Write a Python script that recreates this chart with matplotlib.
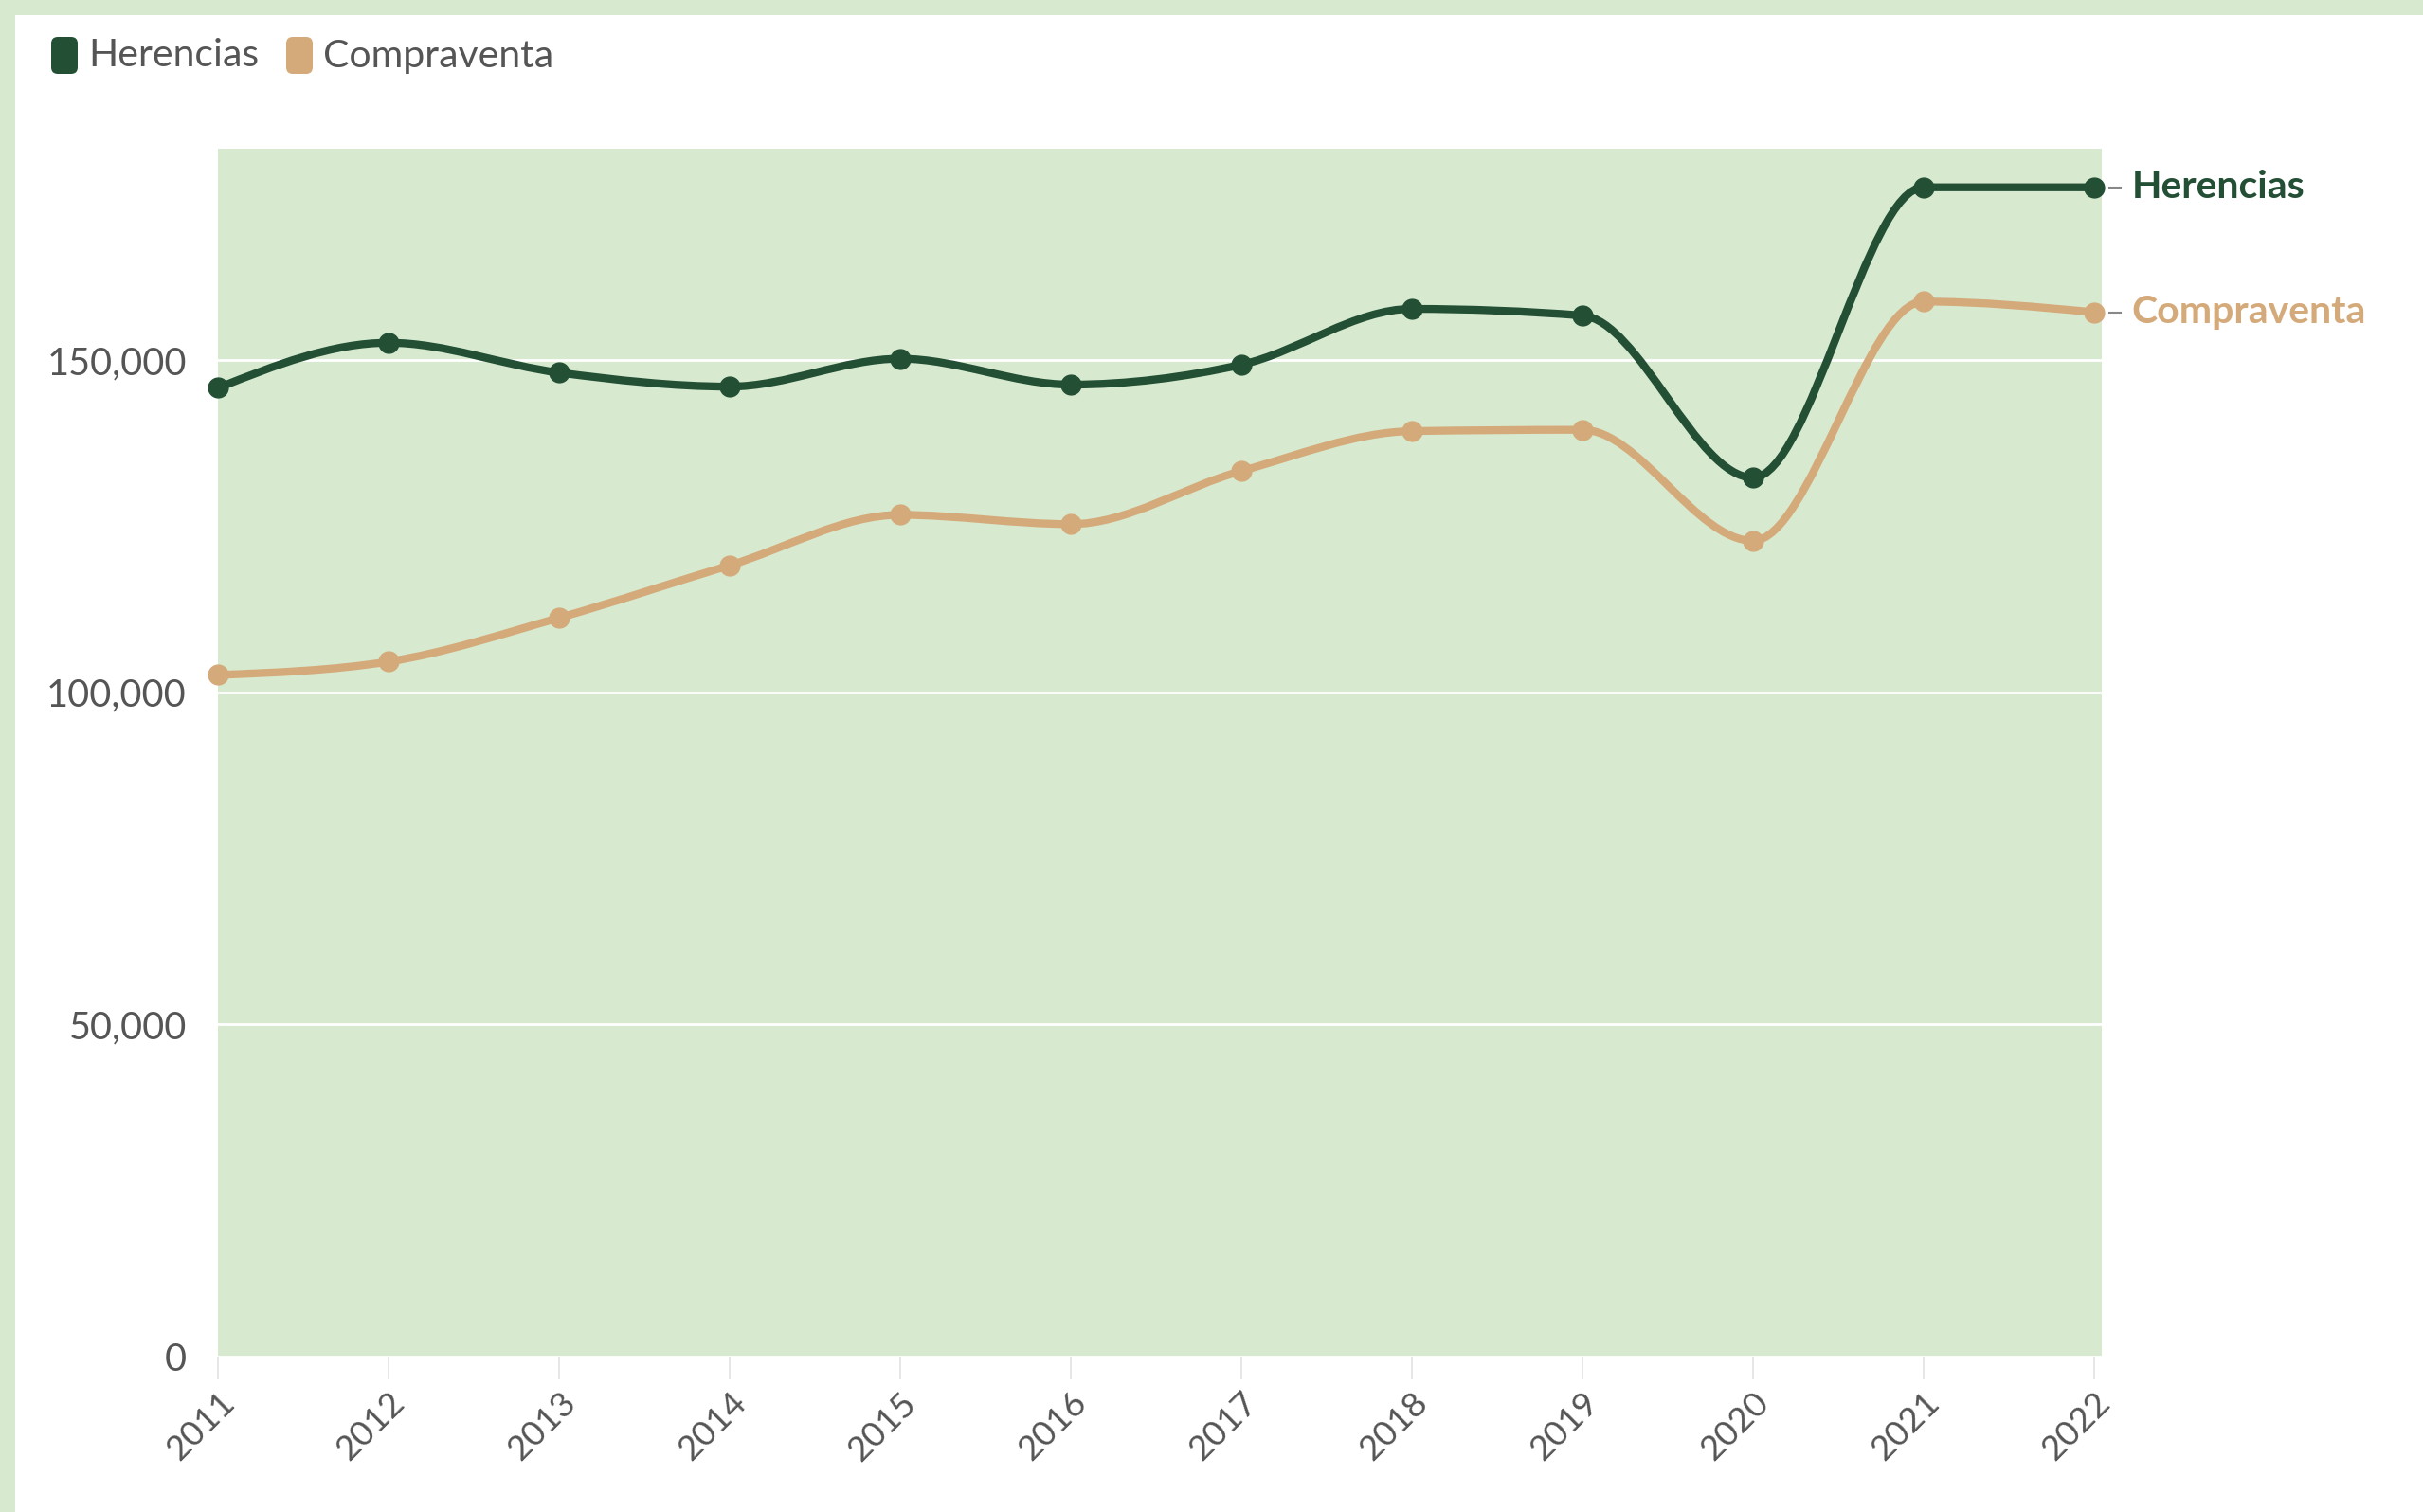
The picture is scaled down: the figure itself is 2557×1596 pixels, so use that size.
import numpy as np
import matplotlib
matplotlib.use("Agg")
import matplotlib.pyplot as plt
from matplotlib.path import Path
from matplotlib.patches import PathPatch, FancyBboxPatch, Rectangle
from matplotlib.lines import Line2D
from matplotlib.transforms import IdentityTransform

# Values
years = [2011, 2012, 2013, 2014, 2015, 2016, 2017, 2018, 2019, 2020, 2021, 2022]
herencias = [145800, 152600, 148100, 146000, 150200, 146300, 149300, 157700, 156700, 132300, 176000, 176000]
compraventa = [102600, 104600, 111200, 119100, 126700, 125300, 133300, 139300, 139500, 122800, 158800, 157200]
series_names = ["Herencias", "Compraventa"]
y_ticks = [0, 50000, 100000, 150000]

GREEN = "#234f35"
TAN = "#d5aa7b"
BG = "#d7eacf"
GREY = "#555555"

plt.rcParams['font.family'] = ['Lato', 'DejaVu Sans']


def monotone_path(xs, ys):
    # same smoothing as d3.curveMonotoneX, drawn as cubic bezier segments
    xs = np.asarray(xs, float)
    ys = np.asarray(ys, float)
    n = len(xs)
    h = np.diff(xs)
    s = np.diff(ys) / h
    sg = lambda v: -1.0 if v < 0 else 1.0
    t = np.zeros(n)
    for i in range(1, n - 1):
        p = (s[i - 1] * h[i] + s[i] * h[i - 1]) / (h[i - 1] + h[i])
        t[i] = (sg(s[i - 1]) + sg(s[i])) * min(abs(s[i - 1]), abs(s[i]), 0.5 * abs(p))
    t[0] = (3 * s[0] - t[1]) / 2
    t[-1] = (3 * s[-1] - t[-2]) / 2
    verts = [(xs[0], ys[0])]
    codes = [Path.MOVETO]
    for i in range(n - 1):
        dx = (xs[i + 1] - xs[i]) / 3
        verts += [(xs[i] + dx, ys[i] + dx * t[i]),
                  (xs[i + 1] - dx, ys[i + 1] - dx * t[i + 1]),
                  (xs[i + 1], ys[i + 1])]
        codes += [Path.CURVE4] * 3
    return Path(verts, codes)


fig = plt.figure(figsize=(25.57, 15.96), dpi=100)
fig.patch.set_facecolor("white")

# light green frame on top and left (screenshot border)
fig.patches.append(Rectangle((0, 1596 - 16), 2557, 16, transform=IdentityTransform(), fc=BG, ec="none", zorder=-5))
fig.patches.append(Rectangle((0, 0), 16, 1596, transform=IdentityTransform(), fc=BG, ec="none", zorder=-5))

ax = fig.add_axes([0.09, 0.1028, 0.7774, 0.7988])
ax.set_facecolor(BG)
ax.set_xlim(2011, 2022.045)
ax.set_ylim(0, 181800)

for s in ax.spines.values():
    s.set_visible(False)

ax.set_yticks(y_ticks)
ax.set_yticklabels(["{:,}".format(v) for v in y_ticks])
ax.set_xticks(years)
ax.set_xticklabels([str(y) for y in years], rotation=45, ha="right", va="top", rotation_mode="anchor")
ax.tick_params(axis="y", length=0, pad=24, labelsize=28.5, labelcolor=GREY)
ax.tick_params(axis="x", length=17, width=1.2, color="#e3e3e3", pad=6, labelsize=26.5, labelcolor=GREY)
ax.grid(axis="y", color="white", linewidth=2)
ax.set_axisbelow(True)

for vals, col in [(compraventa, TAN), (herencias, GREEN)]:
    ax.add_patch(PathPatch(monotone_path(years, vals), fill=False, edgecolor=col, lw=6,
                           capstyle="round", joinstyle="round", clip_on=False, zorder=3))
    ax.plot(years, vals, "o", color=col, markersize=15, clip_on=False, zorder=4)

# labels at the end of each line
fig.canvas.draw()
for vals, col, name in [(herencias, GREEN, "Herencias"), (compraventa, TAN, "Compraventa")]:
    px, py = ax.transData.transform((years[-1], vals[-1]))
    fig.add_artist(Line2D([px + 16, px + 28], [py, py], transform=IdentityTransform(), color="#888888", lw=1.5))
    fig.text(px + 40, py, name, transform=IdentityTransform(), color=col, fontsize=29.5,
             fontweight="bold", ha="left", va="center")

# legend at the top left
legend_items = [(54, GREEN, series_names[0]), (302, TAN, series_names[1])]
for x0, col, name in legend_items:
    fig.patches.append(FancyBboxPatch((x0 + 4, 1596 - 78 + 4), 20, 31, boxstyle="round,pad=4,rounding_size=7",
                                      transform=IdentityTransform(), fc=col, ec="none"))
    fig.text(x0 + 39, 1596 - 59, name, transform=IdentityTransform(), color=GREY, fontsize=29.5,
             ha="left", va="center")

fig.savefig("out.png", dpi=100)
